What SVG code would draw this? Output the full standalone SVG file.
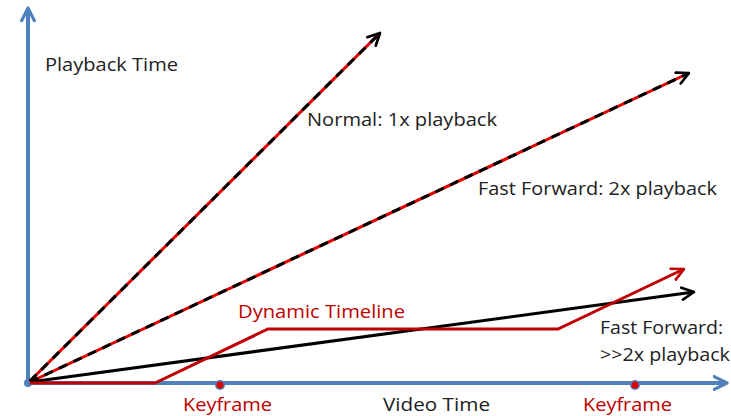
<svg xmlns="http://www.w3.org/2000/svg" width="731" height="416" viewBox="0 0 731 416">
<style>
text{font-family:"Open Sans","Liberation Sans",sans-serif;font-size:18px;fill:#222}
.red{fill:#c00000}
.axis{stroke:#4f81bd;stroke-width:4;fill:none}
.base{stroke:#e00000;stroke-width:3;fill:none}
.dash{stroke:#000;stroke-width:3;fill:none;stroke-dasharray:9 7}
.solid{stroke:#000;stroke-width:3;fill:none}
.dyn{stroke:#c00000;stroke-width:3;fill:none;stroke-linejoin:miter}
</style>
<defs>
<marker id="ab" viewBox="0 0 10 10" refX="9" refY="5" markerWidth="4" markerHeight="4" orient="auto" markerUnits="strokeWidth"><path d="M1,1 L9,5 L1,9" fill="none" stroke="#4f81bd" stroke-width="2" stroke-linecap="round" stroke-linejoin="round"/></marker>
<marker id="ak" viewBox="0 0 10 10" refX="9" refY="5" markerWidth="5" markerHeight="5" orient="auto" markerUnits="strokeWidth"><path d="M1,1 L9,5 L1,9" fill="none" stroke="#000" stroke-width="1.8" stroke-linecap="round" stroke-linejoin="round"/></marker>
<marker id="ar" viewBox="0 0 10 10" refX="9" refY="5" markerWidth="5" markerHeight="5" orient="auto" markerUnits="strokeWidth"><path d="M1,1 L9,5 L1,9" fill="none" stroke="#c00000" stroke-width="1.8" stroke-linecap="round" stroke-linejoin="round"/></marker>
</defs>
<g id="axes">
<line class="axis" x1="28" y1="384" x2="28" y2="8" marker-end="url(#ab)"/>
<line class="axis" x1="28" y1="383" x2="727" y2="383" marker-end="url(#ab)"/>
<circle cx="28" cy="383" r="4" fill="#4f81bd"/>
</g>
<g id="connectors">
<line class="base" x1="30" y1="381" x2="378" y2="35"/>
<line class="dash" x1="30" y1="381" x2="380" y2="33" marker-end="url(#ak)"/>
<line class="base" x1="30" y1="382" x2="687" y2="74"/>
<line class="dash" x1="30" y1="382" x2="689" y2="73" marker-end="url(#ak)"/>
<line class="solid" x1="30" y1="382" x2="694" y2="292" marker-end="url(#ak)"/>
<polyline class="dyn" points="30,383 155,383 268,329 558,329 684,269" marker-end="url(#ar)"/>
</g>
<g id="keyframe1">
<circle cx="220" cy="385" r="5" fill="#4f81bd"/>
<circle cx="220" cy="385" r="3.5" fill="#e00000"/>
<text class="red" x="183" y="411" textLength="89" lengthAdjust="spacingAndGlyphs">Keyframe</text>
</g>
<g id="keyframe2">
<circle cx="635" cy="385" r="5" fill="#4f81bd"/>
<circle cx="635" cy="385" r="3.5" fill="#e00000"/>
<text class="red" x="583" y="411" textLength="89" lengthAdjust="spacingAndGlyphs">Keyframe</text>
</g>
<g id="labels">
<text x="45" y="71" textLength="133" lengthAdjust="spacingAndGlyphs">Playback Time</text>
<text x="307" y="126" textLength="190" lengthAdjust="spacingAndGlyphs">Normal: 1x playback</text>
<text x="478" y="195" textLength="239" lengthAdjust="spacingAndGlyphs">Fast Forward: 2x playback</text>
<text class="red" x="238" y="318" textLength="167" lengthAdjust="spacingAndGlyphs">Dynamic Timeline</text>
<text x="600" y="334" textLength="123" lengthAdjust="spacingAndGlyphs">Fast Forward:</text>
<text x="600" y="361" textLength="130" lengthAdjust="spacingAndGlyphs">&gt;&gt;2x playback</text>
<text x="383" y="411" textLength="107" lengthAdjust="spacingAndGlyphs">Video Time</text>
</g>
</svg>
